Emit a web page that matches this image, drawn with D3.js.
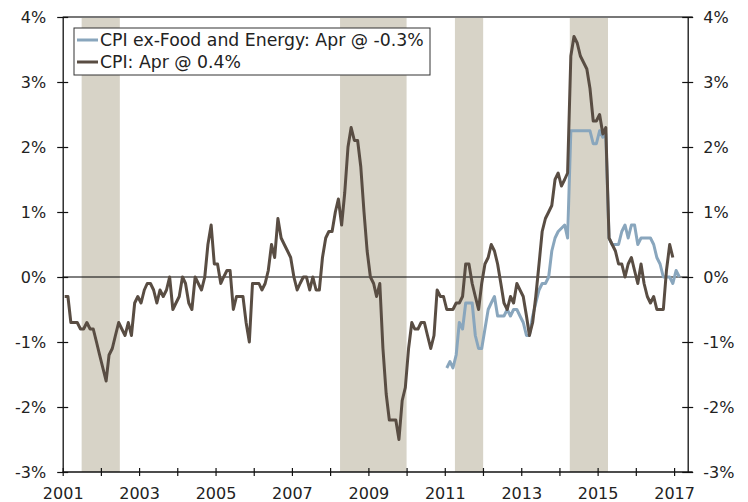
<!DOCTYPE html>
<html>
<head>
<meta charset="utf-8">
<script src="https://cdnjs.cloudflare.com/ajax/libs/d3/7.8.5/d3.min.js"></script>
<style>
  body { margin: 0; background: #fff; }
  svg text { font-family: "DejaVu Sans", Verdana, sans-serif; fill: #222; }
</style>
</head>
<body>
<script>
'use strict';

// headline CPI, y/y %, monthly from Jan 2001
const cpiStart = [2001, 0];
const cpi = [
  -0.3, -0.3, -0.7, -0.7, -0.7, -0.8, -0.8, -0.7, -0.8, -0.8, -1.0, -1.2,
  -1.4, -1.6, -1.2, -1.1, -0.9, -0.7, -0.8, -0.9, -0.7, -0.9, -0.4, -0.3,
  -0.4, -0.2, -0.1, -0.1, -0.2, -0.4, -0.2, -0.3, -0.2, 0.0, -0.5, -0.4,
  -0.3, 0.0, -0.1, -0.4, -0.5, 0.0, -0.1, -0.2, 0.0, 0.5, 0.8, 0.2,
  0.2, -0.1, 0.0, 0.1, 0.1, -0.5, -0.3, -0.3, -0.3, -0.7, -1.0, -0.1,
  -0.1, -0.1, -0.2, -0.1, 0.1, 0.5, 0.3, 0.9, 0.6, 0.5, 0.4, 0.3,
  0.0, -0.2, -0.1, 0.0, 0.0, -0.2, 0.0, -0.2, -0.2, 0.3, 0.6, 0.7,
  0.7, 1.0, 1.2, 0.8, 1.3, 2.0, 2.3, 2.1, 2.1, 1.7, 1.0, 0.4,
  0.0, -0.1, -0.3, -0.1, -1.1, -1.8, -2.2, -2.2, -2.2, -2.5, -1.9, -1.7,
  -1.1, -0.7, -0.8, -0.8, -0.7, -0.7, -0.9, -1.1, -0.9, -0.2, -0.3, -0.3,
  -0.5, -0.5, -0.5, -0.4, -0.4, -0.3, 0.2, 0.2, -0.1, -0.3, -0.5, -0.1,
  0.2, 0.3, 0.5, 0.4, 0.2, -0.1, -0.4, -0.5, -0.3, -0.4, -0.1, -0.2,
  -0.3, -0.6, -0.9, -0.7, -0.3, 0.2, 0.7, 0.9, 1.0, 1.1, 1.5, 1.6,
  1.4, 1.5, 1.6, 3.4, 3.7, 3.6, 3.4, 3.3, 3.2, 2.9, 2.4, 2.4,
  2.5, 2.2, 2.3, 0.6, 0.5, 0.4, 0.2, 0.2, 0.0, 0.2, 0.3, 0.1,
  -0.1, 0.2, -0.1, -0.3, -0.4, -0.3, -0.5, -0.5, -0.5, 0.1, 0.5, 0.3
];

// CPI ex-food and energy, y/y %, monthly from Jan 2011
const coreStart = [2011, 0];
const core = [
  -1.4, -1.3, -1.4, -1.2, -0.7, -0.8, -0.4, -0.4, -0.4, -0.9, -1.1, -1.1,
  -0.8, -0.5, -0.4, -0.3, -0.6, -0.6, -0.6, -0.5, -0.6, -0.5, -0.5, -0.6,
  -0.7, -0.9, -0.9, -0.6, -0.4, -0.2, -0.1, -0.1, 0.0, 0.4, 0.6, 0.7,
  0.75, 0.8, 0.6, 2.25, 2.25, 2.25, 2.25, 2.25, 2.25, 2.25, 2.05, 2.05,
  2.25, 2.15, 2.2, 0.6, 0.5, 0.5, 0.5, 0.7, 0.8, 0.6, 0.8, 0.8,
  0.5, 0.6, 0.6, 0.6, 0.6, 0.5, 0.3, 0.2, 0.0, 0.0, 0.0, -0.1,
  0.1, 0.0
];

// shaded periods
const shaded = [
  ['2001-07-01', '2002-07-01'],
  ['2008-04-05', '2010-01-01'],
  ['2011-04-08', '2012-01-03'],
  ['2014-04-10', '2015-04-10']
];

const yTicks = [-3, -2, -1, 0, 1, 2, 3, 4];
const xTickYears = d3.range(2001, 2018);
const legendLabels = ['CPI ex-Food and Energy: Apr @ -0.3%', 'CPI: Apr @ 0.4%'];

const colors = { cpi: '#594d43', core: '#89a6bd', shade: '#d7d3c7' };

const width = 748, height = 502;
const plot = { left: 62.7, right: 687.7, top: 17, bottom: 472 };

// build {date, value} rows, plotted a little past the start of each month
function toRows(start, values) {
  return values.map((v, i) => ({
    date: new Date(start[0], start[1] + i, 20),
    value: v
  }));
}

const svg = d3.select('body')
  .append('svg')
  .attr('width', width)
  .attr('height', height);

const x = d3.scaleTime()
  .domain([new Date(2001, 0, 1), new Date(2017, 4, 11)])
  .range([plot.left, plot.right]);

const y = d3.scaleLinear()
  .domain([-3, 4])
  .range([plot.bottom, plot.top]);

// shaded bars
svg.append('g')
  .selectAll('rect')
  .data(shaded)
  .enter()
  .append('rect')
    .attr('x', d => x(new Date(d[0])))
    .attr('width', d => x(new Date(d[1])) - x(new Date(d[0])))
    .attr('y', plot.top)
    .attr('height', plot.bottom - plot.top)
    .attr('fill', colors.shade);

// zero line
svg.append('line')
  .attr('x1', plot.left).attr('x2', plot.right)
  .attr('y1', y(0)).attr('y2', y(0))
  .attr('stroke', '#000')
  .attr('stroke-width', 1);

// top border
svg.append('line')
  .attr('x1', plot.left).attr('x2', plot.right + 5)
  .attr('y1', plot.top).attr('y2', plot.top)
  .attr('stroke', '#777')
  .attr('stroke-width', 2);

// lines
const line = d3.line()
  .x(d => x(d.date))
  .y(d => y(d.value));

svg.append('path')
  .datum(toRows(coreStart, core))
  .attr('d', line)
  .attr('fill', 'none')
  .attr('stroke', colors.core)
  .attr('stroke-width', 3)
  .attr('stroke-linejoin', 'round');

svg.append('path')
  .datum(toRows(cpiStart, cpi))
  .attr('d', line)
  .attr('fill', 'none')
  .attr('stroke', colors.cpi)
  .attr('stroke-width', 3)
  .attr('stroke-linejoin', 'round');

// axes
const fmtPct = d => d + '%';

function styleAxis(g, crossing) {
  g.select('.domain').attr('stroke', '#111').attr('stroke-width', 1.3);
  g.selectAll('.tick line').attr('stroke', '#111').attr('stroke-width', 1.2);
  g.selectAll('.tick text')
    .style('font-size', '16px')
    .attr('fill', '#222');
  crossing(g.selectAll('.tick line'));
}

const yLeft = svg.append('g')
  .attr('transform', `translate(${plot.left},0)`)
  .call(d3.axisLeft(y).tickValues(yTicks).tickFormat(fmtPct)
    .tickSizeInner(5.5).tickSizeOuter(0).tickPadding(11));
styleAxis(yLeft, t => t.attr('x1', -5.5).attr('x2', 5.5));

const yRight = svg.append('g')
  .attr('transform', `translate(${plot.right},0)`)
  .call(d3.axisRight(y).tickValues(yTicks).tickFormat(fmtPct)
    .tickSizeInner(5.5).tickSizeOuter(0).tickPadding(10));
styleAxis(yRight, t => t.attr('x1', -5.5).attr('x2', 5.5));

const xAxis = svg.append('g')
  .attr('transform', `translate(0,${plot.bottom})`)
  .call(d3.axisBottom(x)
    .tickValues(xTickYears.map(yr => new Date(yr, 0, 1)))
    .tickFormat(d => d.getFullYear() % 2 === 1 ? d.getFullYear() : '')
    .tickSizeInner(4).tickSizeOuter(0).tickPadding(12));
styleAxis(xAxis, t => t.attr('y1', -4).attr('y2', 4));
xAxis.select('.domain').attr('d', `M${plot.left},0H${plot.right + 5}`);

// legend
const legend = svg.append('g').attr('transform', 'translate(74,28)');
legend.append('rect')
  .attr('width', 356)
  .attr('height', 47)
  .attr('fill', '#fff')
  .attr('stroke', '#333')
  .attr('stroke-width', 1);

const legendItems = [
  { label: legendLabels[0], color: colors.core },
  { label: legendLabels[1], color: colors.cpi }
];

legendItems.forEach((item, i) => {
  const yy = 12 + i * 22;
  legend.append('line')
    .attr('x1', 3).attr('x2', 24)
    .attr('y1', yy).attr('y2', yy)
    .attr('stroke', item.color)
    .attr('stroke-width', 3);
  legend.append('text')
    .attr('x', 26)
    .attr('y', yy)
    .attr('dy', '0.36em')
    .style('font-size', '17.3px')
    .text(item.label);
});
</script>
</body>
</html>
